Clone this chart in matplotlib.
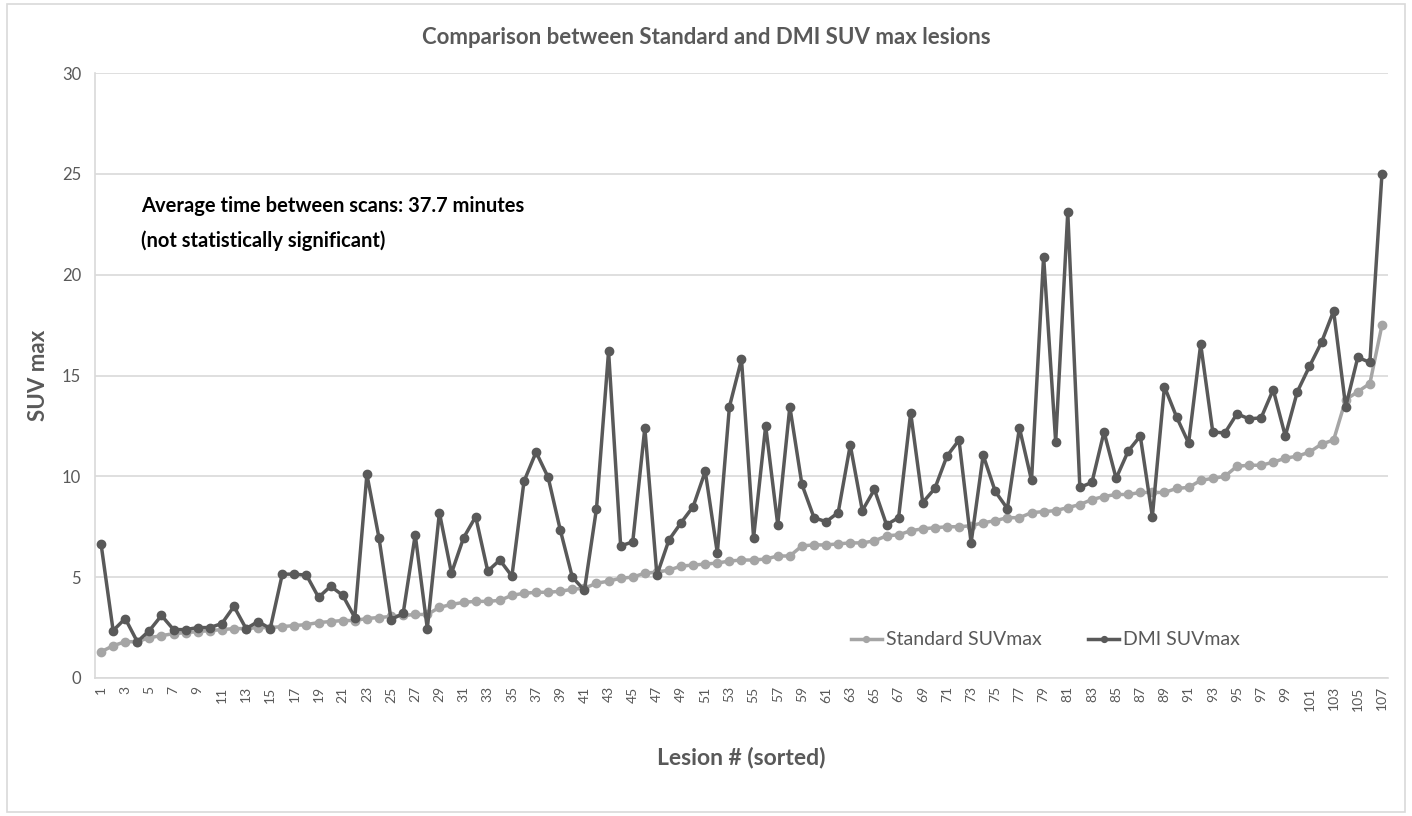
"""Standard vs DMI SUVmax per lesion, sorted by standard value."""

import matplotlib

matplotlib.use("Agg")
import matplotlib.pyplot as plt
from matplotlib.patches import Rectangle
import numpy as np

plt.rcParams["font.family"] = ["Lato", "DejaVu Sans"]

lesions = list(range(1, 108))

standard_suv = [
    1.3, 1.6, 1.8, 1.8, 2.0, 2.1, 2.2, 2.25, 2.3, 2.35,
    2.4, 2.45, 2.45, 2.5, 2.5, 2.55, 2.6, 2.65, 2.75, 2.8,
    2.85, 2.85, 2.95, 3.0, 3.05, 3.1, 3.15, 3.15, 3.5, 3.65,
    3.75, 3.8, 3.8, 3.85, 4.1, 4.2, 4.25, 4.25, 4.3, 4.4,
    4.45, 4.7, 4.8, 4.95, 5.0, 5.2, 5.25, 5.35, 5.55, 5.6,
    5.65, 5.7, 5.8, 5.85, 5.85, 5.9, 6.05, 6.05, 6.55, 6.6,
    6.6, 6.65, 6.7, 6.7, 6.8, 7.05, 7.1, 7.3, 7.4, 7.45,
    7.5, 7.5, 7.55, 7.7, 7.8, 7.95, 7.95, 8.2, 8.25, 8.3,
    8.45, 8.6, 8.85, 9.0, 9.1, 9.1, 9.2, 9.2, 9.2, 9.4,
    9.45, 9.8, 9.9, 10.0, 10.5, 10.55, 10.55, 10.7, 10.9, 11.0,
    11.2, 11.6, 11.8, 13.8, 14.2, 14.6, 17.5,
]

dmi_suv = [
    6.65, 2.35, 2.95, 1.8, 2.35, 3.1, 2.4, 2.4, 2.5, 2.5,
    2.7, 3.55, 2.45, 2.8, 2.45, 5.15, 5.15, 5.1, 4.0, 4.55,
    4.1, 3.0, 10.1, 6.95, 2.9, 3.2, 7.1, 2.45, 8.2, 5.2,
    6.95, 8.0, 5.3, 5.85, 5.05, 9.75, 11.2, 9.95, 7.35, 5.0,
    4.35, 8.4, 16.2, 6.55, 6.75, 12.4, 5.1, 6.85, 7.7, 8.5,
    10.25, 6.2, 13.45, 15.8, 6.95, 12.5, 7.6, 13.45, 9.6, 7.95,
    7.75, 8.2, 11.55, 8.3, 9.35, 7.6, 7.95, 13.15, 8.7, 9.4,
    11.0, 11.8, 6.7, 11.05, 9.25, 8.4, 12.4, 9.8, 20.9, 11.7,
    23.1, 9.45, 9.7, 12.2, 9.9, 11.25, 12.0, 8.0, 14.45, 12.95,
    11.65, 16.55, 12.2, 12.15, 13.1, 12.85, 12.9, 14.3, 12.0, 14.2,
    15.45, 16.65, 18.2, 13.45, 15.9, 15.65, 25.0,
]

y_ticks = [0, 5, 10, 15, 20, 25, 30]

TEXT_GREY = "#595959"
STD_COLOR = "#A5A5A5"
DMI_COLOR = "#595959"
GRID = "#D9D9D9"

fig = plt.figure(figsize=(14.12, 8.16), dpi=100)
ax = fig.add_axes([95 / 1412, 1 - 678 / 816, (1388 - 95) / 1412, (678 - 73) / 816])

ax.plot(lesions, standard_suv, color=STD_COLOR, lw=2.5, marker="o", ms=6,
        label="Standard SUVmax", zorder=2)
ax.plot(lesions, dmi_suv, color=DMI_COLOR, lw=2.5, marker="o", ms=6,
        label="DMI SUVmax", zorder=3)

ax.set_xlim(0.5, 107.5)
ax.set_ylim(0, 30)
ax.set_yticks(y_ticks)
ax.set_xticks(lesions[::2])
ax.set_xticklabels([str(v) for v in lesions[::2]], rotation=90)
ax.tick_params(axis="x", length=0, labelsize=10, colors=TEXT_GREY, pad=6)
ax.tick_params(axis="y", length=0, labelsize=12, colors=TEXT_GREY, pad=10)
ax.yaxis.grid(True, color=GRID, lw=1.2)
ax.set_axisbelow(True)
for side in ("top", "right"):
    ax.spines[side].set_visible(False)
for side in ("left", "bottom"):
    ax.spines[side].set_color(GRID)
    ax.spines[side].set_linewidth(1.2)

ax.set_ylabel("SUV max", fontsize=16, fontweight="bold", color=TEXT_GREY, labelpad=9)
ax.set_xlabel("Lesion # (sorted)", fontsize=16.5, fontweight="bold", color=TEXT_GREY, labelpad=26)
fig.text(0.5, 1 - 38 / 816, "Comparison between Standard and DMI SUV max lesions",
         ha="center", va="center", fontsize=16, fontweight="bold", color=TEXT_GREY)

ax.text(4.3, 23.4, "Average time between scans: 37.7 minutes", fontsize=14.5,
        fontweight="bold", color="black", va="center")
ax.text(4.3, 21.7, "(not statistically significant)", fontsize=14.5,
        fontweight="bold", color="black", va="center")

leg = ax.legend(loc="lower left", bbox_to_anchor=(0.571, 0.02), ncol=2, frameon=False,
                fontsize=14, handlelength=1.6, handletextpad=0.2, columnspacing=2.4,
                markerscale=0.7)
for txt in leg.get_texts():
    txt.set_color(TEXT_GREY)

fig.patches.append(Rectangle((7 / 1412, 4 / 816), 1398 / 1412, 808 / 816,
                             transform=fig.transFigure, fill=False,
                             edgecolor=GRID, lw=1.2))

fig.savefig("out.png", dpi=100)
